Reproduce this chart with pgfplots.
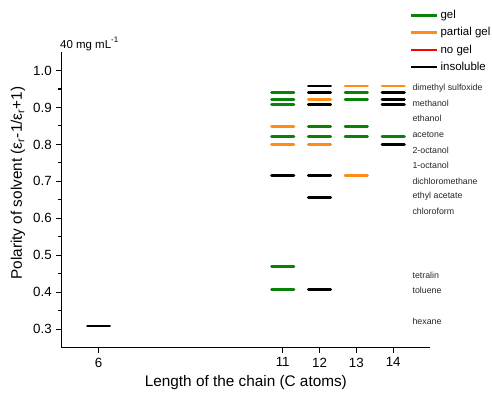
\documentclass[border=0pt]{standalone}
\usepackage{fontspec}
\setmainfont{Liberation Sans}
\usepackage{pgfplots}
\pgfplotsset{compat=1.18}
\definecolor{gelgreen}{RGB}{10,130,10}
\definecolor{partorange}{RGB}{255,140,20}
\definecolor{nogelred}{RGB}{255,0,0}
\begin{document}
\begin{tikzpicture}
\begin{axis}[
  at={(46.3pt,37.7pt)}, anchor=south west,
  scale only axis, width=276.2pt, height=221.8pt,
  xmin=5, xmax=15, ymin=0.25, ymax=1.05,
  clip=false,
  axis x line*=bottom, axis y line*=left,
  axis line style={line width=0.8pt},
  tick align=outside, major tick length=4pt, minor tick length=2.5pt,
  tick style={line width=0.8pt, black},
  xtick={6,11,12,13,14},
  ytick={0.3,0.4,0.5,0.6,0.7,0.8,0.9,1.0},
  minor y tick num=1,
  /pgf/number format/assume math mode=true,
  yticklabel style={/pgf/number format/.cd, fixed, fixed zerofill, precision=1},
  ticklabel style={font=\fontsize{10}{12}\selectfont},
  xlabel={Length of the chain (C atoms)},
  ylabel={Polarity of solvent (ε\textsubscript{r}-1/ε\textsubscript{r}+1)},
  label style={font=\fontsize{11.5}{13}\selectfont},
  xlabel style={at={(axis description cs:0.5,-0.119)}, anchor=center},
  ylabel style={at={(axis description cs:-0.119,0.557)}, anchor=center},
  legend style={at={(axis description cs:0.943,1.151)}, anchor=north west,
    draw=none, fill=none, font=\fontsize{8.6}{10}\selectfont,
    row sep=1.2pt, inner sep=0pt, cells={anchor=west}},
  legend image code/.code={\draw[#1, line width=2pt] (0pt,0pt) -- (19.5pt,0pt);},
]
\addlegendimage{color=gelgreen}
\addlegendentry{gel}
\addlegendimage{color=partorange}
\addlegendentry{partial gel}
\addlegendimage{color=nogelred}
\addlegendentry{no gel}
\addlegendimage{color=black}
\addlegendentry{insoluble}

% gel
\addplot[only marks, mark=-, mark size=8.4pt, forget plot,
  mark options={line width=2.1pt, line cap=round, draw=gelgreen}] coordinates {
  (11,0.941) (11,0.922) (11,0.908) (11,0.822) (11,0.469) (11,0.408)
  (12,0.849) (12,0.822)
  (13,0.941) (13,0.922) (13,0.849) (13,0.822)
  (14,0.822)
};
% partial gel
\addplot[only marks, mark=-, mark size=8.4pt, forget plot,
  mark options={line width=2.1pt, line cap=round, draw=partorange}] coordinates {
  (11,0.849) (11,0.799)
  (12,0.922) (12,0.799)
  (13,0.958) (13,0.715)
  (14,0.958)
};
% insoluble
\addplot[only marks, mark=-, mark size=8.4pt, forget plot,
  mark options={line width=2.1pt, line cap=round, draw=black}] coordinates {
  (6,0.309)
  (11,0.715)
  (12,0.958) (12,0.941) (12,0.908) (12,0.715) (12,0.656) (12,0.408)
  (14,0.941) (14,0.922) (14,0.908) (14,0.799)
};

\begin{scope}[every node/.style={anchor=west, inner sep=0pt, font=\fontsize{6.6}{8}\selectfont, text=black!85}]
\node at (axis cs:14.52,0.952) {dimethyl sulfoxide};
\node at (axis cs:14.52,0.910) {methanol};
\node at (axis cs:14.52,0.870) {ethanol};
\node at (axis cs:14.52,0.827) {acetone};
\node at (axis cs:14.52,0.785) {2-octanol};
\node at (axis cs:14.52,0.744) {1-octanol};
\node at (axis cs:14.52,0.701) {dichloromethane};
\node at (axis cs:14.52,0.660) {ethyl acetate};
\node at (axis cs:14.52,0.618) {chloroform};
\node at (axis cs:14.52,0.447) {tetralin};
\node at (axis cs:14.52,0.405) {toluene};
\node at (axis cs:14.52,0.322) {hexane};
\end{scope}
\node[anchor=base west, inner sep=0pt, font=\fontsize{8.6}{10}\selectfont]
  at (axis description cs:-0.005,1.0135) {40 mg mL\textsuperscript{-1}};
\end{axis}
\pgfresetboundingbox
\path[use as bounding box] (0,0) rectangle (369.75pt,298.5pt);
\end{tikzpicture}
\end{document}
